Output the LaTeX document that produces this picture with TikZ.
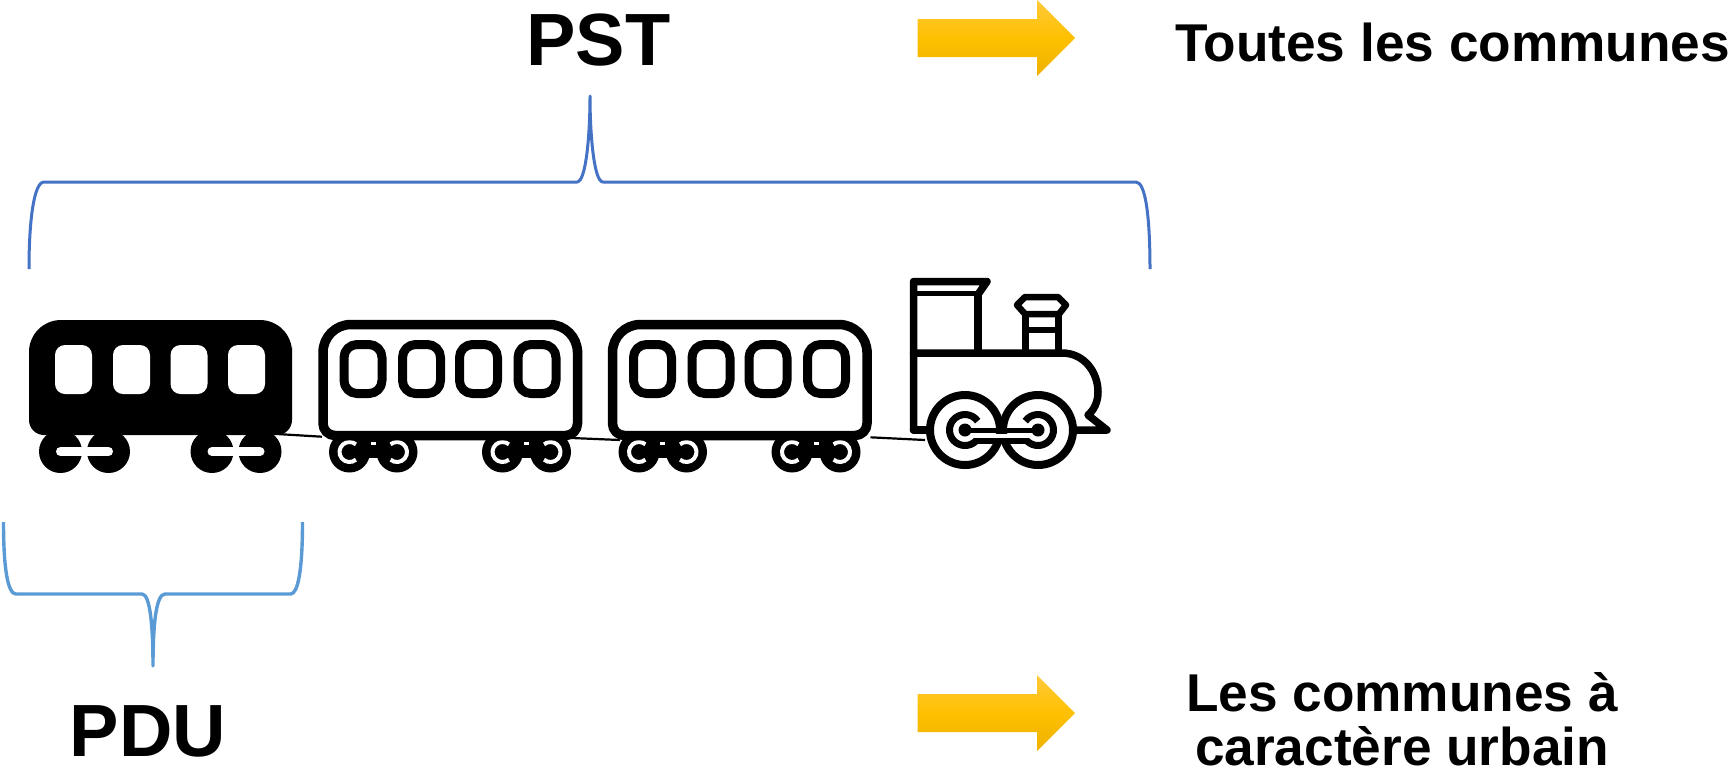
\documentclass[tikz,border=0pt]{standalone}
\usepackage{fontspec}
\setmainfont{Liberation Sans}
\definecolor{bracedark}{HTML}{4472C4}
\definecolor{bracelight}{HTML}{5B9BD5}
\definecolor{arrowtop}{HTML}{FFC93A}
\definecolor{arrowmid}{HTML}{FFC000}
\definecolor{arrowbot}{HTML}{EDB200}
\tikzset{
  px/.style={line width=#1*0.5pt},
  bigtext/.style={font=\fontsize{37}{37}\selectfont\bfseries,anchor=base,inner sep=0pt},
  smalltext/.style={font=\fontsize{26.6}{26.6}\selectfont\bfseries,anchor=base,inner sep=0pt},
  bracedk/.style={draw=bracedark,px=3,line join=round},
  bracelt/.style={draw=bracelight,px=3.4,line join=round},
  goldarrow/.style={top color=arrowtop,bottom color=arrowbot,middle color=arrowmid,draw=none},
  coupling/.style={draw=black,px=2.2},
  trainline/.style={draw=black,line join=round,line cap=round},
}
\newcommand{\goldarrow}[1]{%
  \shade[goldarrow,shift={(0,#1)}] (917.5,-19) -- (1037,-19) -- (1037,-38) -- (1075,0) -- (1037,38) -- (1037,19) -- (917.5,19) -- cycle;}
\newcommand{\hollowwheels}[2]{%
  \fill (#1,452) circle (20.5);
  \fill (#2,452) circle (20.5);
  \fill ({#1+10},438) rectangle ({#2-10},458);
  \draw[white,px=4] ([shift={(50:10)}]#1,452) arc (50:310:10);
  \draw[white,px=4] ([shift={(130:10)}]#2,452) arc (130:-130:10);
  \fill[white] ({(#1+#2)/2-2.5},441.5) rectangle ({(#1+#2)/2+2.5},445);}
\begin{document}
\begin{tikzpicture}[x=0.5pt,y=-0.5pt]
\useasboundingbox (0,0) rectangle (1734,768);

% labels
\node[bigtext] (pst) at (598.5,65) {PST};
\node[bigtext] (pdu) at (148,756) {PDU};
\node[smalltext] (toutes) at (1452.5,61) {Toutes les communes};
\node[smalltext] (communes) at (1402,711) {Les communes à};
\node[smalltext] (urbain) at (1402,765) {caractère urbain};

% arrows
\goldarrow{38}
\goldarrow{713}

% braces
\draw[bracedk] (29,269) .. controls (29,220) and (34,182) .. (44,182) -- (577,182)
  .. controls (586,182) and (590,135) .. (590,96)
  .. controls (590,135) and (594,182) .. (603,182) -- (1136,182)
  .. controls (1146,182) and (1150,220) .. (1150,269);
\draw[bracelt] (3.5,522) .. controls (3.5,570) and (8,594) .. (16,594) -- (142,594)
  .. controls (150,594) and (153,625) .. (153,666)
  .. controls (153,625) and (156,594) .. (165,594) -- (290.5,594)
  .. controls (298,594) and (302.5,570) .. (302.5,522);

% couplings
\coordinate (c1a) at (277,434);
\coordinate (c1b) at (322,436.7);
\coordinate (c2a) at (572,438);
\coordinate (c2b) at (620,440);
\coordinate (c3a) at (870.5,437.3);
\coordinate (c3b) at (925,440);
\draw[coupling] (c1a) -- (c1b);
\draw[coupling] (c2a) -- (c2b);
\draw[coupling] (c3a) -- (c3b);

% black wagon
\foreach \cx in {60.5,108.5,212,260} \fill (\cx,451.5) circle (21.5);
\draw[white,px=9,line cap=round] (60.5,451.5) -- (108.5,451.5);
\draw[white,px=9,line cap=round] (212,451.5) -- (260,451.5);
\fill[rounded corners=16pt] (29,378) -- (29,320) -- (292,320) -- (292,378)
  [rounded corners=7.5pt] -- (292,435) -- (29,435) -- cycle;
\foreach \wx in {55,113,170.5,228}
  \fill[white,rounded corners=5pt] (\wx,345) rectangle ++(37,49);

% outlined wagons
\foreach \ox in {318.5,608}{
\begin{scope}[shift={(\ox,0)}]
  \hollowwheels{31}{78.5}
  \hollowwheels{184}{232}
  \draw[trainline,fill=white,px=9.5,rounded corners=14pt] (4.5,378) -- (4.5,324.5) -- (259,324.5) -- (259,378)
    [rounded corners=6pt] -- (259,435.5) -- (4.5,435.5) -- cycle;
  \foreach \wx in {25.5,84,141,199.5}
    \draw[trainline,px=9,rounded corners=6.5pt] (\wx,344.5) rectangle ++(38,49);
\end{scope}}

% locomotive
\begin{scope}
  % cab and boiler
  \draw[trainline,px=7.5] (913.5,430) -- (913.5,281.5) -- (987,281.5) -- (979,293);
  \draw[trainline,px=5] (915,293.5) -- (978,293.5);
  \draw[trainline,px=7.5] (978,294) -- (978,350);
  \draw[trainline,px=7.5] (913.5,353) -- (1062,353)
     .. controls (1084,353) and (1098,372) .. (1098,392)
     .. controls (1098,402) and (1094,410) .. (1088,415)
     -- (1107,430) -- (1068,430);
  \draw[trainline,px=7.5] (913.5,430) -- (935,430);
  % chimney
  \draw[trainline,px=7] (1025.5,314) -- (1025.5,350);
  \draw[trainline,px=7] (1058.5,314) -- (1058.5,350);
  \draw[trainline,px=6] (1025,329.5) -- (1059,329.5);
  \draw[trainline,px=6.5] (1017,305) -- (1025,297) -- (1058,297) -- (1066,305) -- (1059,314) -- (1025,314) -- cycle;
  % wheels: white discs first, so that the two rims merge where they overlap
  \foreach \cx in {965,1038} \fill[white] (\cx,430) circle (38);
  \foreach \cx in {965,1038}{
    \draw[trainline,px=8] (\cx,430) circle (35);
    \fill (\cx,430) circle (6.5);
  }
  \draw[trainline,px=7,line cap=butt] ([shift={(35:15.5)}]965,430) arc (35:325:15.5);
  \draw[trainline,px=7,line cap=butt] ([shift={(145:15.5)}]1038,430) arc (145:-145:15.5);
  \draw[trainline,px=5,line cap=butt] (965,430) -- (1038,430);
  \fill[white] (970,433.5) rectangle (1033,437.5);
  \draw[trainline,px=6,line cap=butt] (975,441) -- (1028,441);
\end{scope}
\end{tikzpicture}
\end{document}
